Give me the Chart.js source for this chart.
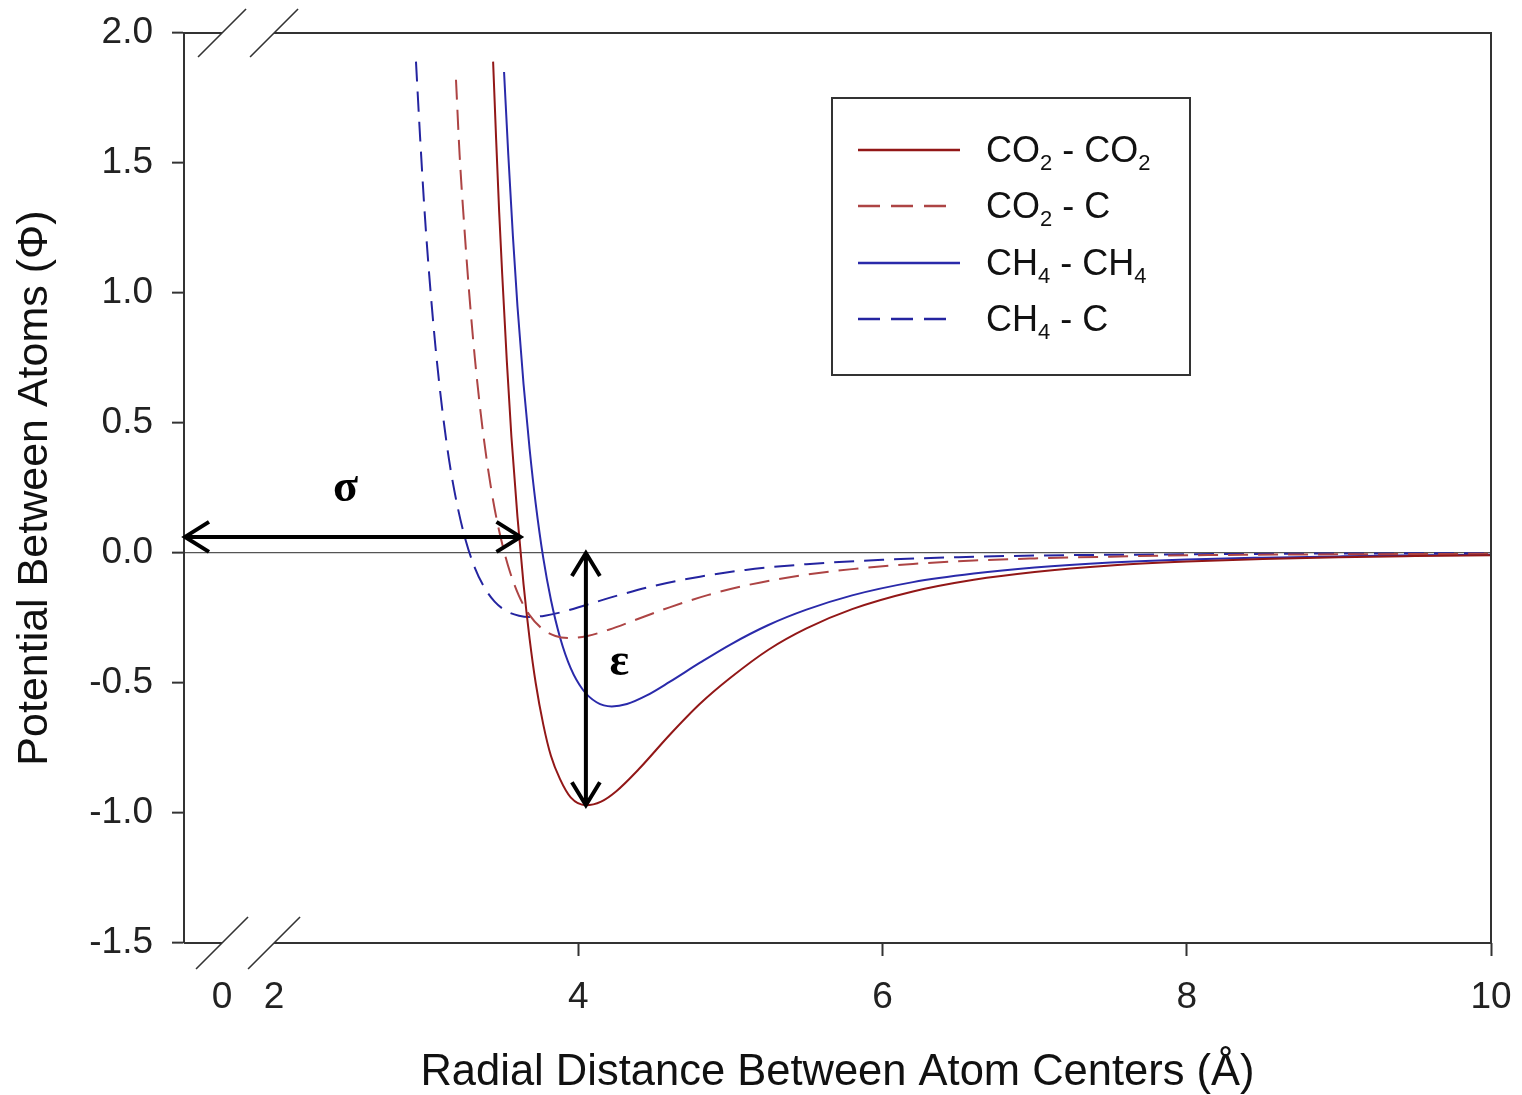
<!DOCTYPE html>
<html>
<head>
<meta charset="utf-8">
<script src="https://cdn.jsdelivr.net/npm/chart.js@4.4.1/dist/chart.umd.min.js"></script>
<style>
  html, body { margin: 0; padding: 0; background: #ffffff; }
  canvas { display: block; }
</style>
</head>
<body>
<canvas id="chart" width="1522" height="1095"></canvas>
<script>
// Pair potentials Φ(r) between atom centres, r in Å
const seriesLabels = ['CO₂ - CO₂', 'CO₂ - C', 'CH₄ - CH₄', 'CH₄ - C'];

const co2co2R   = [3.44, 3.46, 3.48, 3.50, 3.53, 3.56, 3.60, 3.64, 3.68, 3.72, 3.77, 3.82, 3.88, 3.95, 4.05, 4.15, 4.25, 4.40, 4.60, 4.80, 5.00, 5.25, 5.50, 5.80, 6.20, 6.60, 7.00, 7.50, 8.00, 8.50, 9.00, 9.50, 10.0];
const co2co2Phi = [1.89, 1.59, 1.31, 1.07, 0.74, 0.45, 0.14, -0.12, -0.33, -0.50, -0.66, -0.78, -0.87, -0.94, -0.97, -0.956, -0.916, -0.83, -0.70, -0.58, -0.48, -0.372, -0.29, -0.216, -0.148, -0.103, -0.073, -0.048, -0.033, -0.023, -0.016, -0.012, -0.009];

const co2cR   = [3.196, 3.22, 3.25, 3.28, 3.32, 3.36, 3.40, 3.45, 3.50, 3.55, 3.61, 3.68, 3.76, 3.85, 3.95, 4.06, 4.20, 4.40, 4.60, 4.85, 5.10, 5.40, 5.80, 6.20, 6.60, 7.00, 7.50, 8.00, 9.00, 10.0];
const co2cPhi = [1.82, 1.53, 1.26, 1.02, 0.75, 0.53, 0.35, 0.17, 0.035, -0.071, -0.165, -0.239, -0.29, -0.319, -0.327, -0.319, -0.295, -0.252, -0.209, -0.162, -0.125, -0.092, -0.062, -0.042, -0.029, -0.021, -0.014, -0.009, -0.005, -0.003];

const ch4ch4R   = [3.512, 3.54, 3.57, 3.60, 3.64, 3.68, 3.72, 3.77, 3.82, 3.88, 3.95, 4.03, 4.12, 4.22, 4.32, 4.45, 4.60, 4.80, 5.00, 5.25, 5.50, 5.80, 6.20, 6.60, 7.00, 7.50, 8.00, 8.50, 9.00, 9.50, 10.0];
const ch4ch4Phi = [1.85, 1.53, 1.22, 0.95, 0.65, 0.40, 0.19, -0.02, -0.18, -0.325, -0.443, -0.526, -0.574, -0.59, -0.581, -0.548, -0.496, -0.422, -0.352, -0.277, -0.218, -0.163, -0.112, -0.079, -0.056, -0.037, -0.025, -0.018, -0.013, -0.009, -0.007];

const ch4cR   = [2.933, 2.96, 2.99, 3.02, 3.06, 3.10, 3.15, 3.20, 3.26, 3.32, 3.38, 3.45, 3.53, 3.61, 3.69, 3.78, 3.90, 4.05, 4.25, 4.50, 4.80, 5.10, 5.50, 6.00, 6.50, 7.00, 8.00, 9.00, 10.0];
const ch4cPhi = [1.89, 1.60, 1.31, 1.07, 0.80, 0.58, 0.36, 0.196, 0.048, -0.057, -0.13, -0.187, -0.224, -0.241, -0.246, -0.241, -0.226, -0.20, -0.165, -0.126, -0.091, -0.065, -0.043, -0.026, -0.016, -0.010, -0.005, -0.002, -0.001];

const xTickValues = [0, 2, 4, 6, 8, 10];
const xTickLabels = ['0', '2', '4', '6', '8', '10'];
const yTickValues = [-1.5, -1.0, -0.5, 0.0, 0.5, 1.0, 1.5, 2.0];
const yTickLabels = ['-1.5', '-1.0', '-0.5', '0.0', '0.5', '1.0', '1.5', '2.0'];

// Well parameters marked on the CO2 - CO2 curve
const sigmaCO2 = 3.62;     // Φ = 0 crossing
const rMinCO2 = 4.05;      // position of the minimum
const epsilonCO2 = 0.97;   // well depth

// Broken x axis: the 0..2 stretch is squeezed, 0 is drawn at this axis value
const AXIS_MIN = 1.408;
const ZERO_AT = 1.658;
const axisPos = v => (v === 0 ? ZERO_AT : v);

const toPoints = (rs, ps) => rs.map((r, i) => ({ x: r, y: ps[i] }));

const RED = '#921717';
const RED_DASH = '#ad4444';
const BLUE = '#2a2aaa';
const BLUE_DASH = '#2424a0';
const DASH = [20, 10];

const mainFont = '"Liberation Sans", Arial, sans-serif';

const frameAndBreaks = {
  id: 'frameAndBreaks',
  afterDatasetsDraw(chart) {
    const { ctx, chartArea: a, scales: { x } } = chart;
    const b0 = x.getPixelForValue(ZERO_AT);
    const b2 = x.getPixelForValue(2);
    ctx.save();
    ctx.strokeStyle = '#333';
    ctx.lineWidth = 2;
    ctx.beginPath();
    [a.top, a.bottom].forEach(yy => {
      ctx.moveTo(a.left, yy); ctx.lineTo(b0, yy);
      ctx.moveTo(b2, yy); ctx.lineTo(a.right + 1, yy);
    });
    ctx.moveTo(a.right, a.top); ctx.lineTo(a.right, a.bottom);
    ctx.stroke();
    ctx.lineWidth = 1.6;
    ctx.beginPath();
    [b0, b2].forEach(bx => {
      [a.top, a.bottom].forEach(yy => {
        const d = yy === a.top ? 24 : 26;
        ctx.moveTo(bx - d, yy + d);
        ctx.lineTo(bx + d, yy - d);
      });
    });
    ctx.stroke();
    ctx.restore();
  }
};

function arrowHead(ctx, tx, ty, ux, uy, len, half) {
  // open V head with tip at (tx,ty) pointing along (ux,uy)
  const bx = tx - ux * len, by = ty - uy * len;
  const px = -uy, py = ux;
  ctx.moveTo(bx + px * half, by + py * half);
  ctx.lineTo(tx, ty);
  ctx.lineTo(bx - px * half, by - py * half);
}

const wellMarks = {
  id: 'wellMarks',
  afterDatasetsDraw(chart) {
    const { ctx, chartArea: a, scales: { x, y } } = chart;
    ctx.save();
    ctx.strokeStyle = '#000';
    ctx.lineWidth = 4;
    ctx.lineJoin = 'miter';
    ctx.lineCap = 'butt';
    // σ: horizontal double arrow from r = 0 side to the zero crossing
    const sy = y.getPixelForValue(0.062);
    const sx0 = a.left + 1;
    const sx1 = x.getPixelForValue(sigmaCO2);
    ctx.beginPath();
    ctx.moveTo(sx0 + 2, sy); ctx.lineTo(sx1 - 2, sy);
    arrowHead(ctx, sx0, sy, -1, 0, 24, 15);
    arrowHead(ctx, sx1, sy, 1, 0, 24, 15);
    ctx.stroke();
    // ε: vertical double arrow from Φ = 0 down to the well bottom
    const ex = x.getPixelForValue(rMinCO2);
    const ey0 = y.getPixelForValue(0);
    const ey1 = y.getPixelForValue(-epsilonCO2);
    ctx.beginPath();
    ctx.moveTo(ex, ey0 + 2); ctx.lineTo(ex, ey1 - 2);
    arrowHead(ctx, ex, ey0, 0, -1, 23, 14);
    arrowHead(ctx, ex, ey1, 0, 1, 23, 14);
    ctx.stroke();
    ctx.fillStyle = '#000';
    ctx.font = 'bold 46px "Liberation Serif", "DejaVu Serif", serif';
    ctx.textAlign = 'center';
    ctx.textBaseline = 'alphabetic';
    ctx.fillText('σ', x.getPixelForValue(2.47), y.getPixelForValue(0.2));
    ctx.fillText('ε', x.getPixelForValue(4.27), y.getPixelForValue(-0.47));
    ctx.restore();
  }
};

// Boxed legend; subscript digits are drawn smaller and lowered
const SUB = '₀₁₂₃₄₅₆₇₈₉';
function drawRich(ctx, text, x0, yBase, size) {
  let cx = x0;
  for (const ch of text) {
    const k = SUB.indexOf(ch);
    if (k >= 0) {
      ctx.font = `${Math.round(size * 0.62)}px ${mainFont}`;
      ctx.fillText(String(k), cx, yBase + size * 0.22);
      cx += ctx.measureText(String(k)).width;
    } else {
      ctx.font = `${size}px ${mainFont}`;
      ctx.fillText(ch, cx, yBase);
      cx += ctx.measureText(ch).width;
    }
  }
}

const boxedLegend = {
  id: 'boxedLegend',
  afterDraw(chart) {
    const { ctx } = chart;
    const box = { left: 832, top: 98, right: 1190, bottom: 375 };
    ctx.save();
    ctx.fillStyle = '#fff';
    ctx.fillRect(box.left, box.top, box.right - box.left, box.bottom - box.top);
    ctx.strokeStyle = '#333';
    ctx.lineWidth = 2;
    ctx.strokeRect(box.left, box.top, box.right - box.left, box.bottom - box.top);
    const rowY = [150, 206, 263, 319];
    chart.data.datasets.forEach((ds, i) => {
      const yy = rowY[i];
      ctx.beginPath();
      ctx.strokeStyle = ds.borderColor;
      ctx.lineWidth = 2.4;
      ctx.setLineDash(ds.borderDash ? [22, 11] : []);
      ctx.moveTo(858, yy);
      ctx.lineTo(ds.borderDash ? 955 : 960, yy);
      ctx.stroke();
      ctx.setLineDash([]);
      ctx.fillStyle = '#111';
      ctx.textBaseline = 'alphabetic';
      ctx.textAlign = 'left';
      drawRich(ctx, ds.label, 986, yy + 12, 36);
    });
    ctx.restore();
  }
};

const datasets = [
  { label: seriesLabels[0], data: toPoints(co2co2R, co2co2Phi), borderColor: RED },
  { label: seriesLabels[1], data: toPoints(co2cR, co2cPhi), borderColor: RED_DASH, borderDash: DASH },
  { label: seriesLabels[2], data: toPoints(ch4ch4R, ch4ch4Phi), borderColor: BLUE },
  { label: seriesLabels[3], data: toPoints(ch4cR, ch4cPhi), borderColor: BLUE_DASH, borderDash: DASH }
].map(d => Object.assign({
  borderWidth: 2,
  pointRadius: 0,
  fill: false,
  cubicInterpolationMode: 'monotone'
}, d));

new Chart(document.getElementById('chart'), {
  type: 'line',
  data: { datasets },
  options: {
    responsive: false,
    animation: false,
    devicePixelRatio: 1,
    layout: { padding: { left: 0, right: 31, top: 33, bottom: 0 } },
    plugins: { legend: { display: false }, tooltip: { enabled: false } },
    scales: {
      x: {
        type: 'linear',
        min: AXIS_MIN,
        max: 10,
        afterBuildTicks: s => { s.ticks = xTickValues.map(v => ({ value: axisPos(v) })); },
        afterFit: s => { s.height = 152; s.paddingLeft = 0; s.paddingRight = 0; },
        border: { display: false },
        grid: {
          drawOnChartArea: false,
          tickLength: 13,
          tickWidth: 2,
          tickColor: c => (c.tick && c.tick.value < 3 ? 'rgba(0,0,0,0)' : '#333')
        },
        ticks: {
          autoSkip: false,
          maxRotation: 0,
          padding: 20,
          color: '#222',
          font: { family: mainFont, size: 37 },
          callback: (v, i) => xTickLabels[i]
        },
        title: {
          display: true,
          text: 'Radial Distance Between Atom Centers (Å)',
          color: '#111',
          font: { family: mainFont, size: 43.5, lineHeight: 1.0 },
          padding: { top: 0, bottom: 0 }
        }
      },
      y: {
        type: 'linear',
        min: -1.5,
        max: 2.0,
        afterBuildTicks: s => { s.ticks = yTickValues.map(v => ({ value: v })); },
        afterFit: s => { s.width = 184; s.paddingTop = 0; s.paddingBottom = 0; },
        border: { display: true, color: '#333', width: 2 },
        grid: {
          drawOnChartArea: true,
          lineWidth: 1.3,
          color: c => (c.tick && c.tick.value === 0 ? '#555' : 'rgba(0,0,0,0)'),
          tickLength: 12,
          tickWidth: 2,
          tickColor: '#333'
        },
        ticks: {
          padding: 19,
          color: '#222',
          font: { family: mainFont, size: 37 },
          callback: (v, i) => yTickLabels[i]
        },
        title: {
          display: true,
          text: 'Potential Between Atoms (Φ)',
          color: '#111',
          font: { family: mainFont, size: 43, lineHeight: 1.0 },
          padding: { top: 14, bottom: 0 }
        }
      }
    }
  },
  plugins: [frameAndBreaks, wellMarks, boxedLegend]
});
</script>
</body>
</html>
